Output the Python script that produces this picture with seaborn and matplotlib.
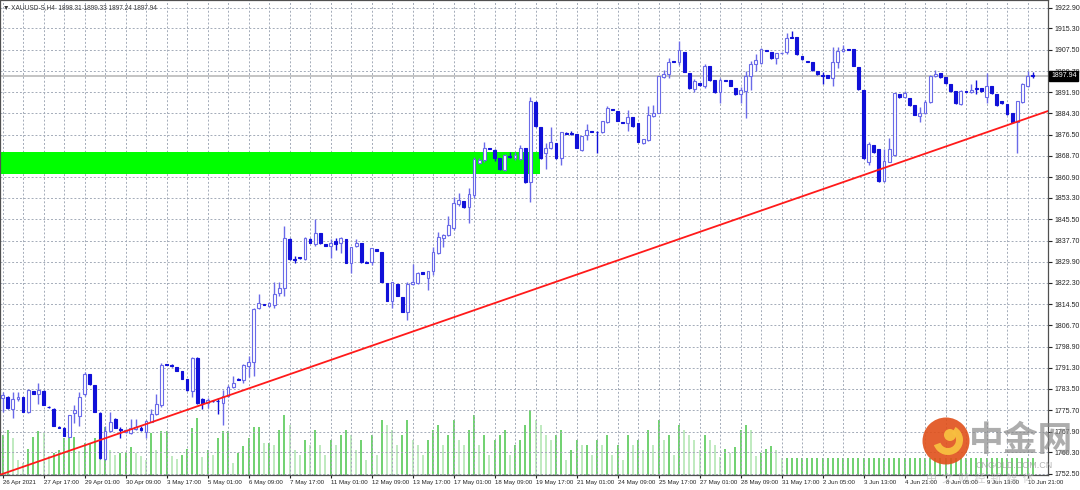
import numpy as np
import matplotlib
matplotlib.use("Agg")
import matplotlib.pyplot as plt
import matplotlib.transforms as mtransforms
from matplotlib.patches import Rectangle, Circle, Wedge
import seaborn as sns

sns.set_style("white")
plt.rcParams['font.family'] = ['Liberation Sans', 'DejaVu Sans']

# ---------------- data (XAUUSD-S, H4) ----------------
opens = [
1780.1, 1780.5, 1776.1, 1779.8, 1780.5, 1775.0, 1782.7, 1781.6, 1782.7, 1777.0,
1776.1, 1769.5, 1769.2, 1765.9, 1774.7, 1773.6, 1781.6, 1788.9, 1784.9, 1774.7,
1757.8, 1768.1, 1772.5, 1768.8, 1767.7, 1767.3, 1768.8, 1769.2, 1767.7, 1771.4,
1774.3, 1777.6, 1792.6, 1792.2, 1791.5, 1790.0, 1787.1, 1782.7, 1794.8, 1779.8,
1778.3, 1779.0, 1779.0, 1778.3, 1780.9, 1784.2, 1787.1, 1786.7, 1791.8, 1793.3,
1813.0, 1814.5, 1813.8, 1814.1, 1818.5, 1820.3, 1838.2, 1830.9, 1831.5, 1830.9,
1838.2, 1836.4, 1840.4, 1836.4, 1835.7, 1837.5, 1836.8, 1838.2, 1829.5, 1835.7,
1836.8, 1829.8, 1829.8, 1834.6, 1833.5, 1822.2, 1815.6, 1821.8, 1817.0, 1811.6,
1821.8, 1822.2, 1826.2, 1824.0, 1826.5, 1833.1, 1838.6, 1839.7, 1842.3, 1851.0,
1852.1, 1849.9, 1854.3, 1866.0, 1867.1, 1871.5, 1870.8, 1867.8, 1863.5, 1868.6,
1867.8, 1867.5, 1871.5, 1859.1, 1888.3, 1879.2, 1869.7, 1871.5, 1873.3, 1867.8,
1877.0, 1877.0, 1876.6, 1870.8, 1876.2, 1877.7, 1877.5, 1877.3, 1881.0, 1885.7,
1885.0, 1881.0, 1880.6, 1882.8, 1880.6, 1873.3, 1874.4, 1883.2, 1884.3, 1897.4,
1898.5, 1903.3, 1902.9, 1906.6, 1898.9, 1893.0, 1895.2, 1894.1, 1901.5, 1896.3,
1891.9, 1896.3, 1896.3, 1893.4, 1891.2, 1892.3, 1897.8, 1902.2, 1902.6, 1907.3,
1906.6, 1904.4, 1906.2, 1906.6, 1912.0, 1912.0, 1905.1, 1903.3, 1902.9, 1899.6,
1898.2, 1898.2, 1897.1, 1902.9, 1906.9, 1907.7, 1907.7, 1901.1, 1892.7, 1866.4,
1872.6, 1871.1, 1859.4, 1866.4, 1868.9, 1891.2, 1890.1, 1889.8, 1887.2, 1883.2,
1884.3, 1888.3, 1897.8, 1898.9, 1897.4, 1894.9, 1892.3, 1887.6, 1892.3, 1891.9,
1893.4, 1893.4, 1890.1, 1894.1, 1891.2, 1888.7, 1887.6, 1884.3, 1881.0, 1888.3,
1894.1, 1898.31]

highs = [
1782.3, 1780.9, 1782.3, 1782.3, 1780.6, 1783.4, 1782.8, 1785.6, 1783.1, 1777.2,
1776.5, 1769.9, 1769.5, 1774.0, 1777.6, 1782.3, 1789.6, 1789.0, 1785.0, 1775.0,
1769.9, 1775.0, 1772.8, 1769.5, 1768.8, 1772.5, 1772.5, 1769.9, 1772.1, 1776.1,
1781.6, 1792.9, 1792.7, 1792.6, 1791.6, 1790.1, 1787.2, 1795.1, 1795.1, 1780.1,
1780.1, 1779.2, 1780.1, 1783.1, 1784.9, 1788.2, 1787.4, 1792.6, 1795.5, 1813.0,
1818.1, 1814.7, 1815.2, 1822.5, 1822.5, 1843.0, 1838.6, 1832.0, 1831.7, 1839.0,
1838.6, 1845.5, 1840.5, 1836.5, 1838.2, 1838.6, 1839.0, 1838.3, 1835.4, 1838.2,
1836.9, 1830.2, 1835.0, 1834.7, 1833.6, 1822.3, 1822.6, 1821.9, 1817.1, 1822.5,
1829.1, 1826.2, 1826.3, 1826.6, 1835.3, 1840.8, 1840.1, 1846.6, 1853.6, 1855.0,
1852.2, 1856.9, 1868.2, 1867.8, 1873.7, 1871.7, 1871.1, 1867.9, 1869.3, 1870.0,
1870.0, 1872.6, 1871.6, 1890.1, 1888.7, 1879.3, 1873.3, 1879.2, 1873.4, 1877.4,
1877.3, 1877.7, 1876.7, 1876.0, 1880.3, 1877.9, 1877.7, 1881.5, 1886.8, 1885.9,
1885.1, 1881.2, 1885.4, 1882.9, 1880.7, 1874.9, 1886.8, 1887.2, 1897.9, 1900.0,
1904.4, 1903.5, 1910.6, 1906.7, 1899.0, 1896.7, 1895.3, 1902.2, 1901.6, 1896.4,
1897.1, 1896.5, 1896.4, 1893.5, 1893.8, 1899.6, 1903.3, 1905.8, 1908.0, 1907.5,
1906.7, 1906.3, 1906.6, 1913.5, 1914.2, 1912.1, 1905.2, 1903.5, 1903.0, 1899.7,
1899.3, 1898.3, 1908.4, 1908.4, 1909.1, 1907.8, 1907.8, 1901.2, 1892.8, 1873.7,
1872.7, 1871.2, 1871.1, 1875.1, 1891.7, 1891.3, 1892.3, 1889.9, 1887.3, 1886.5,
1889.0, 1898.2, 1900.0, 1899.0, 1897.5, 1895.0, 1892.4, 1892.7, 1892.5, 1894.9,
1896.3, 1893.5, 1898.9, 1894.2, 1891.3, 1888.8, 1887.7, 1884.4, 1888.8, 1895.2,
1899.6, 1899.33]

lows = [
1775.0, 1776.1, 1772.8, 1779.0, 1774.9, 1774.7, 1781.5, 1778.0, 1777.5, 1776.5,
1769.8, 1769.2, 1766.2, 1765.8, 1771.0, 1769.9, 1780.9, 1784.9, 1774.9, 1757.8,
1757.5, 1767.7, 1769.1, 1765.5, 1767.3, 1767.0, 1768.4, 1768.1, 1765.5, 1771.3,
1773.9, 1776.9, 1792.1, 1791.5, 1789.9, 1787.0, 1782.7, 1780.5, 1778.0, 1776.1,
1776.5, 1778.7, 1774.3, 1770.3, 1780.5, 1783.8, 1786.7, 1785.6, 1787.8, 1788.2,
1812.7, 1814.1, 1813.4, 1813.0, 1817.4, 1817.4, 1830.6, 1829.5, 1831.1, 1830.6,
1836.7, 1835.7, 1836.4, 1835.6, 1831.3, 1834.2, 1833.1, 1829.4, 1825.8, 1835.3,
1829.7, 1829.5, 1828.7, 1833.8, 1822.4, 1815.5, 1813.0, 1817.3, 1811.5, 1808.6,
1821.4, 1821.8, 1825.4, 1819.6, 1825.1, 1832.8, 1835.3, 1839.3, 1841.5, 1850.3,
1849.8, 1844.1, 1853.2, 1865.6, 1866.4, 1871.1, 1866.7, 1863.7, 1863.1, 1867.8,
1867.1, 1867.1, 1858.7, 1851.8, 1879.2, 1867.7, 1863.8, 1871.1, 1867.7, 1865.3,
1876.6, 1876.2, 1871.4, 1870.4, 1874.4, 1877.3, 1869.7, 1877.2, 1880.6, 1885.4,
1881.3, 1880.6, 1877.7, 1879.4, 1873.6, 1873.2, 1874.3, 1882.8, 1884.2, 1897.1,
1897.1, 1902.9, 1901.8, 1899.2, 1893.3, 1891.9, 1894.4, 1893.4, 1896.2, 1891.8,
1887.9, 1896.0, 1894.1, 1891.1, 1887.9, 1882.5, 1892.7, 1899.6, 1902.2, 1906.9,
1904.3, 1902.2, 1905.8, 1905.8, 1911.7, 1905.7, 1903.9, 1902.9, 1899.9, 1898.4,
1894.9, 1897.0, 1894.1, 1900.7, 1906.6, 1907.3, 1901.4, 1892.9, 1867.7, 1865.3,
1869.9, 1859.3, 1859.1, 1866.3, 1868.6, 1890.0, 1889.8, 1887.1, 1883.5, 1881.0,
1883.9, 1888.0, 1897.4, 1897.3, 1895.1, 1892.2, 1887.8, 1887.2, 1891.9, 1891.6,
1891.2, 1892.2, 1887.9, 1891.5, 1887.1, 1887.8, 1883.8, 1880.9, 1869.7, 1888.2,
1893.8, 1897.24]

closes = [
1781.2, 1776.5, 1779.8, 1780.5, 1775.0, 1783.1, 1781.6, 1783.1, 1777.6, 1776.7,
1769.9, 1769.3, 1766.3, 1773.9, 1775.8, 1780.5, 1788.9, 1785.3, 1775.0, 1758.2,
1768.1, 1771.4, 1769.2, 1768.6, 1768.5, 1769.2, 1769.5, 1768.6, 1771.7, 1774.3,
1778.0, 1792.2, 1792.4, 1791.8, 1790.0, 1787.1, 1783.1, 1794.8, 1778.3, 1778.3,
1779.4, 1778.9, 1778.9, 1780.9, 1784.2, 1785.6, 1786.9, 1792.2, 1793.3, 1812.7,
1814.9, 1814.3, 1814.9, 1818.1, 1820.3, 1838.6, 1830.9, 1830.7, 1831.3, 1838.6,
1836.8, 1840.4, 1836.8, 1835.7, 1836.8, 1836.4, 1838.6, 1829.5, 1835.3, 1836.8,
1829.8, 1829.7, 1834.9, 1833.9, 1822.5, 1815.6, 1822.5, 1817.4, 1811.6, 1821.8,
1822.5, 1825.8, 1825.5, 1826.5, 1833.5, 1839.0, 1839.7, 1843.4, 1851.4, 1852.5,
1849.9, 1854.7, 1867.5, 1867.1, 1871.5, 1871.3, 1867.8, 1863.8, 1868.9, 1868.4,
1868.9, 1871.5, 1859.1, 1888.7, 1879.5, 1867.8, 1871.5, 1873.7, 1867.8, 1877.3,
1876.8, 1876.8, 1871.5, 1875.9, 1878.1, 1877.5, 1877.3, 1881.4, 1886.1, 1885.6,
1881.4, 1880.8, 1882.8, 1879.5, 1873.7, 1874.8, 1883.6, 1884.3, 1897.8, 1898.5,
1902.9, 1903.1, 1907.3, 1899.3, 1893.4, 1896.0, 1894.5, 1901.5, 1896.3, 1891.9,
1896.3, 1896.2, 1894.2, 1891.2, 1892.7, 1897.8, 1902.2, 1903.7, 1907.7, 1907.1,
1904.4, 1906.2, 1906.4, 1911.7, 1911.9, 1905.8, 1904.0, 1903.1, 1900.0, 1898.5,
1898.0, 1897.1, 1902.9, 1906.9, 1907.7, 1907.5, 1901.5, 1893.0, 1867.8, 1873.0,
1870.0, 1859.4, 1866.7, 1871.1, 1891.6, 1890.1, 1891.6, 1887.2, 1883.6, 1884.3,
1888.3, 1897.8, 1898.5, 1897.4, 1895.2, 1892.3, 1887.9, 1892.3, 1892.1, 1892.7,
1893.2, 1892.3, 1894.1, 1891.6, 1887.2, 1887.9, 1883.9, 1881.0, 1888.7, 1894.9,
1897.8, 1897.94]

volumes = [
16000, 18000, 14800, 6000, 4800, 10400, 15200, 17600, 16800, 7600,
8800, 10000, 14800, 14800, 15200, 9600, 12800, 12800, 14800, 14400,
19200, 10000, 8000, 8800, 8800, 11200, 8800, 7600, 6000, 16800,
10000, 17600, 17600, 7600, 6400, 8000, 10400, 18800, 22800, 7200,
10000, 8000, 14800, 17600, 17600, 4800, 8800, 11600, 14800, 19200,
19200, 12800, 12800, 12000, 18000, 24000, 20000, 10000, 8000, 14000,
12000, 18000, 12000, 8000, 14000, 12000, 16000, 18000, 16000, 10000,
14000, 6000, 16000, 8000, 22000, 20000, 18000, 12000, 16000, 22000,
14000, 12000, 8000, 14000, 18000, 20000, 12000, 16000, 22000, 14000,
12000, 18000, 24000, 12000, 16000, 8000, 14000, 16000, 18000, 8000,
12000, 14000, 20000, 26000, 22000, 20000, 16000, 14000, 16000, 18000,
6000, 10000, 14000, 12000, 12000, 8000, 14000, 12000, 16000, 8000,
12000, 6000, 16000, 12000, 14000, 10000, 18000, 12000, 22000, 14000,
16000, 8000, 20000, 18000, 16000, 14000, 10000, 16000, 14000, 12000,
7200, 10400, 8800, 11200, 18000, 20000, 18000, 7600, 8800, 10400,
11600, 10000, 6800, 6800, 6800, 6800, 6800, 6800, 6800, 6800,
6800, 6800, 6800, 6800, 6800, 6800, 6800, 6800, 6800, 6800,
6800, 6800, 6800, 6800, 6800, 6800, 6800, 6800, 6800, 6800,
6800, 6800, 6800, 6800, 6800, 6800, 6800, 6800, 6800, 6800,
6800, 6800, 6800, 6800, 6800, 6800, 6800, 6800, 6800, 6800,
6800, 6800]

date_ticks = [0, 8, 16, 24, 32, 40, 48, 56, 64, 72, 80, 88, 96, 104, 112,
              120, 128, 136, 144, 152, 160, 168, 176, 184, 192, 200]
date_labels = ["26 Apr 2021", "27 Apr 17:00", "29 Apr 01:00", "30 Apr 09:00",
               "3 May 17:00", "5 May 01:00", "6 May 09:00", "7 May 17:00",
               "11 May 01:00", "12 May 09:00", "13 May 17:00", "17 May 01:00",
               "18 May 09:00", "19 May 17:00", "21 May 01:00", "24 May 09:00",
               "25 May 17:00", "27 May 01:00", "28 May 09:00", "31 May 17:00",
               "2 Jun 05:00", "3 Jun 13:00", "4 Jun 21:00", "8 Jun 05:00",
               "9 Jun 13:00", "10 Jun 21:00"]
price_ticks = [1922.90, 1915.30, 1907.50, 1899.70, 1891.90, 1884.30, 1876.50,
               1868.70, 1860.90, 1853.30, 1845.50, 1837.70, 1829.90, 1822.30,
               1814.50, 1806.70, 1798.90, 1791.30, 1783.50, 1775.70, 1767.90,
               1760.30, 1752.50]
price_labels = ["%.2f" % p for p in price_ticks]

symbol_title = "XAUUSD-S,H4"
last_price = 1897.94
zone_low, zone_high, zone_end = 1862.0, 1870.2, 104.95   # green rectangle
trend_anchor_bars = [0, 200]
trend_anchor_prices = [1752.4, 1882.5]

# ---------------- figure ----------------
W, H = 1080, 490
fig = plt.figure(figsize=(W / 100, H / 100), dpi=100)
fig.patch.set_facecolor("white")
pos = [0.0, 15 / H, 1048 / W, 475 / H]
axv = fig.add_axes(pos, zorder=0)
ax = fig.add_axes(pos, zorder=1)
ax.patch.set_alpha(0)

n = len(closes)
x = np.arange(n)
o = np.array(opens); c = np.array(closes)
hi = np.array(highs); lo = np.array(lows)
v = np.array(volumes, dtype=float)

xlim = (-0.5, 204.0)
ylim = (1752.0, 1925.7)

# volumes (background axes)
vcol = ["#57c957" if (i == 0 or v[i] >= v[i - 1]) else "#b4e6b4" for i in range(n)]
axv.vlines(x, 0, v, colors=vcol, lw=1.2)
axv.set_xlim(*xlim)
axv.set_ylim(0, 190000)
axv.set_xticks([]); axv.set_yticks([])
for s in axv.spines.values():
    s.set_visible(False)
axv.set_facecolor("white")

# grid
ax.set_xlim(*xlim)
ax.set_ylim(*ylim)
ax.set_xticks(date_ticks)
ax.set_xticks(np.arange(4, 204, 4), minor=True)
ax.set_yticks(price_ticks)
ax.grid(True, which="both", axis="x", color="#a3abb8", lw=0.7, ls=(0, (2, 2)), zorder=0)
ax.grid(True, which="major", axis="y", color="#a3abb8", lw=0.7, ls=(0, (2, 2)), zorder=0)
ax.set_axisbelow(True)

# green zone
ax.add_patch(Rectangle((xlim[0], zone_low), zone_end - xlim[0], zone_high - zone_low,
                       facecolor="#00ff00", edgecolor="none", zorder=1))

# current price line
ax.axhline(last_price, color="#c4c4c4", lw=1.4, zorder=1.5)

# candles
up = c >= o
up_col = "#6a6ae8"
dn_col = "#1010d8"
ax.vlines(x[up], lo[up], hi[up], color=up_col, lw=1.0, zorder=3)
ax.vlines(x[~up], lo[~up], hi[~up], color=dn_col, lw=1.0, zorder=3)
body_lo = np.minimum(o, c)
body_h = np.maximum(np.abs(c - o), 0.25)
ax.bar(x[up], body_h[up], bottom=body_lo[up], width=0.55, facecolor="white",
       edgecolor=up_col, linewidth=0.8, zorder=4)
ax.bar(x[~up], body_h[~up], bottom=body_lo[~up], width=0.55, facecolor=dn_col,
       edgecolor=dn_col, linewidth=0.8, zorder=4)

# trend line (ray through the two anchors, across the whole chart)
slope = (trend_anchor_prices[1] - trend_anchor_prices[0]) / (trend_anchor_bars[1] - trend_anchor_bars[0])
tx = np.array(xlim)
ty = trend_anchor_prices[0] + slope * (tx - trend_anchor_bars[0])
sns.lineplot(x=tx, y=ty, ax=ax, color="#ff1a1a", lw=1.3, zorder=5, legend=False)

# axes styling
ax.yaxis.tick_right()
ax.set_yticklabels(price_labels)
ax.set_xticklabels(date_labels, ha="left")
ax.tick_params(axis="y", which="major", direction="out", length=3, pad=2,
               labelsize=5.0, colors="#222222", right=True, left=False)
ax.tick_params(axis="x", which="major", direction="out", length=2, pad=1.5,
               labelsize=4.4, colors="#222222", bottom=True)
ax.tick_params(axis="x", which="minor", length=0)
ax.set_xlabel(""); ax.set_ylabel("")
for s in ax.spines.values():
    s.set_color("#505050"); s.set_linewidth(0.9)

# last price box on the right scale
trans = mtransforms.blended_transform_factory(ax.transAxes, ax.transData)
ax.text(1.003, last_price, "%.2f" % last_price, transform=trans, fontsize=5.0,
        color="white", ha="left", va="center", zorder=10, clip_on=False,
        bbox=dict(boxstyle="square,pad=0.25", facecolor="black", edgecolor="black"))

# header text
ax.text(0.003, 0.985, "\u25bc " + symbol_title + "  " + " ".join("%.2f" % val for val in
        (opens[-1], highs[-1], lows[-1], closes[-1])),
        transform=ax.transAxes, fontsize=4.7, color="#3a3a3a", ha="left", va="center", zorder=10)

# watermark
fig.patches.append(Circle((9.46, 0.49), 0.235, transform=fig.dpi_scale_trans,
                          facecolor="#e0501a", edgecolor="none", alpha=0.9, zorder=20))
fig.patches.append(Wedge((9.48, 0.50), 0.15, 200, 60, width=0.07, transform=fig.dpi_scale_trans,
                         facecolor="#f8c040", edgecolor="none", alpha=0.95, zorder=21))
fig.patches.append(Circle((9.50, 0.55), 0.06, transform=fig.dpi_scale_trans,
                          facecolor="#f8c040", edgecolor="none", alpha=0.95, zorder=21))
fig.text(0.897, 1 - 440 / H, "中金网", fontsize=25, fontweight="bold", color="#8a8a8a",
         alpha=0.7, family=["Noto Sans CJK SC", "DejaVu Sans"], ha="left", va="center", zorder=22)
fig.text(0.903, 1 - 465 / H, "CNGOLD.COM.CN", fontsize=6.5, color="#9a9a9a", alpha=0.75,
         ha="left", va="center", zorder=22)
fig.text(0.857, 1 - 478 / H, "中  文  财  经  新  媒  体", fontsize=8, color="#b0b0b0", alpha=0.6,
         family=["Noto Sans CJK SC", "DejaVu Sans"], ha="left", va="center", zorder=22)

fig.savefig("out.png", dpi=100)
